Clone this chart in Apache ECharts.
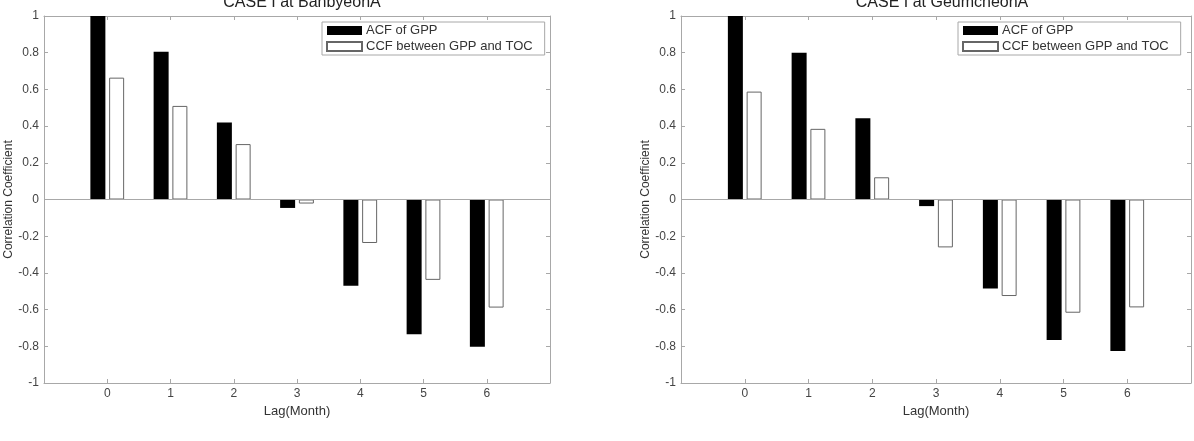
<!DOCTYPE html>
<html>
<head>
<meta charset="utf-8">
<script src="https://cdn.jsdelivr.net/npm/echarts@6/dist/echarts.min.js"></script>
<style>
html,body{margin:0;padding:0;background:#fff;}
#c{width:1194px;height:441px;}
</style>
</head>
<body>
<div id="c"></div>
<script>
// ---- data ----
const lags = [0, 1, 2, 3, 4, 5, 6];
const xTickLabels = ['0', '1', '2', '3', '4', '5', '6'];
const titles = ['CASE I at BanbyeonA', 'CASE I at GeumcheonA'];
const seriesNames = ['ACF of GPP', 'CCF between GPP and TOC'];
const acfBanbyeon = [1.00, 0.805, 0.42, -0.046, -0.47, -0.734, -0.803];
const ccfBanbyeon = [0.664, 0.51, 0.302, -0.022, -0.237, -0.438, -0.589];
const acfGeumcheon = [1.00, 0.80, 0.443, -0.036, -0.485, -0.766, -0.825];
const ccfGeumcheon = [0.588, 0.385, 0.121, -0.261, -0.526, -0.617, -0.588];

const FONT = '"Liberation Sans", Arial, sans-serif';
const AXC = '#a8a8a8';
const TXT = '#444';

const grids = [
  {left: 44, right: 1194 - 550, top: 16, bottom: 441 - 383},
  {left: 681, right: 2, top: 16, bottom: 441 - 383}
];
const panels = [
  {acf: acfBanbyeon, ccf: ccfBanbyeon, legendLeft: 322, center: 297},
  {acf: acfGeumcheon, ccf: ccfGeumcheon, legendLeft: 958, center: 937}
];

const pairs = arr => lags.map((l, i) => [l, arr[i]]);

const option = {
  backgroundColor: '#fff',
  animation: false,
  textStyle: {fontFamily: FONT},
  title: panels.map((p, i) => ({
    text: titles[i], left: p.center, top: -10, textAlign: 'center',
    textStyle: {fontSize: 16, fontWeight: 'normal', color: '#222', fontFamily: FONT}
  })),
  grid: grids,
  xAxis: [],
  yAxis: [],
  legend: [],
  series: []
};

panels.forEach((p, gi) => {
  const axLine = {show: true, onZero: false, lineStyle: {color: AXC, width: 1}};
  option.xAxis.push({
    type: 'value', gridIndex: gi, min: -1, max: 7, interval: 1, position: 'bottom',
    name: 'Lag(Month)', nameLocation: 'middle', nameGap: 20,
    nameTextStyle: {fontSize: 13, color: '#333', fontFamily: FONT},
    axisLine: axLine,
    axisTick: {show: true, inside: true, length: 4, lineStyle: {color: AXC}},
    axisLabel: {fontSize: 12, color: TXT, margin: 5, fontFamily: FONT,
      formatter: v => (v >= 0 && v <= 6) ? xTickLabels[v] : ''},
    splitLine: {show: false}
  });
  option.xAxis.push({
    type: 'value', gridIndex: gi, min: -1, max: 7, interval: 1, position: 'top',
    axisLine: axLine,
    axisTick: {show: true, inside: true, length: 4, lineStyle: {color: AXC}},
    axisLabel: {show: false}, splitLine: {show: false}
  });
  option.yAxis.push({
    type: 'value', gridIndex: gi, min: -1, max: 1, interval: 0.2, position: 'left',
    name: 'Correlation Coefficient', nameLocation: 'middle', nameGap: 29,
    nameTextStyle: {fontSize: 12, color: '#333', fontFamily: FONT},
    axisLine: axLine,
    axisTick: {show: true, inside: true, length: 4, lineStyle: {color: AXC}},
    axisLabel: {fontSize: 12, color: TXT, margin: 5, fontFamily: FONT,
      formatter: v => { const r = Math.round(v * 10) / 10; return String(r); }},
    splitLine: {show: false}
  });
  option.yAxis.push({
    type: 'value', gridIndex: gi, min: -1, max: 1, interval: 0.2, position: 'right',
    axisLine: axLine,
    axisTick: {show: true, inside: true, length: 4, lineStyle: {color: AXC}},
    axisLabel: {show: false}, splitLine: {show: false}
  });
  const xi = gi * 2, yi = gi * 2;
  option.series.push({
    name: seriesNames[0], type: 'bar', xAxisIndex: xi, yAxisIndex: yi,
    data: pairs(p.acf), barWidth: 15, barGap: '25%',
    itemStyle: {color: '#000', borderColor: '#000', borderWidth: 0},
    markLine: {
      silent: true, symbol: 'none', animation: false,
      label: {show: false},
      lineStyle: {color: AXC, width: 1, type: 'solid'},
      data: [{yAxis: 0}]
    }
  });
  option.series.push({
    name: seriesNames[1], type: 'bar', xAxisIndex: xi, yAxisIndex: yi,
    data: pairs(p.ccf), barWidth: 15, barGap: '25%',
    itemStyle: {color: '#fff', borderColor: '#666', borderWidth: 1}
  });
  option.legend.push({
    left: p.legendLeft, top: 22, orient: 'vertical',
    data: seriesNames.map(n => ({name: n, icon: 'rect'})), selectedMode: false,
    itemWidth: 35, itemHeight: 9, itemGap: 3, padding: [2, 12, 2, 4],
    backgroundColor: '#fff', borderColor: AXC, borderWidth: 1,
    textStyle: {fontSize: 13, color: '#333', fontFamily: FONT, padding: [0, 0, 0, -1]}
  });
});

const chart = echarts.init(document.getElementById('c'), null, {renderer: 'canvas'});
chart.setOption(option);
</script>
</body>
</html>
